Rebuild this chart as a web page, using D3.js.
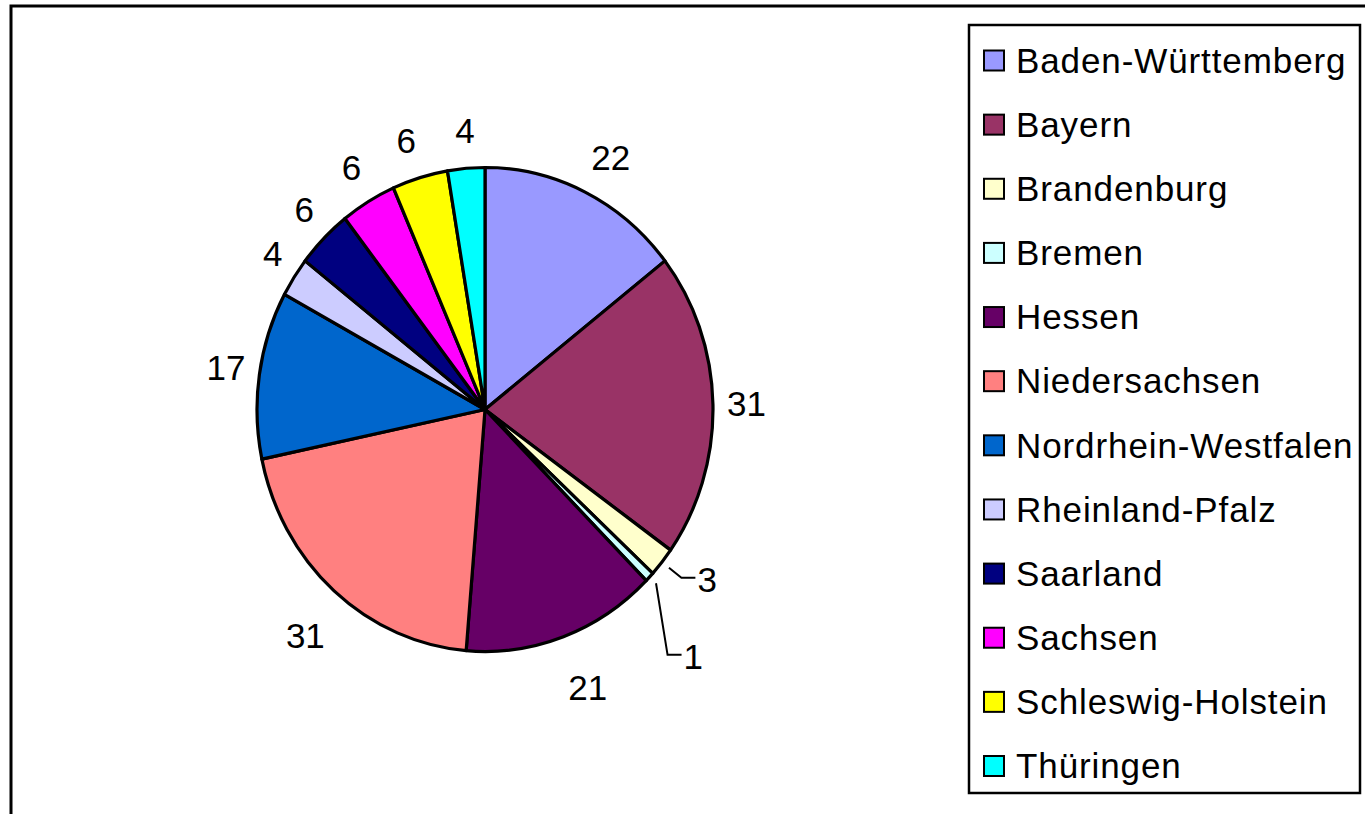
<!DOCTYPE html>
<html lang="de">
  <head>
    <title>Kreisdiagramm Bundesländer</title>
    <meta charset="utf-8">
    <script src="https://d3js.org/d3.v7.min.js"></script>
    <style>
      body { margin: 0; background: #fff; }
      text { font-family: Arial, "Liberation Sans", sans-serif; fill: #000; }
    </style>
  </head>
  <body>
    <div id="grafik"></div>
    <script type="text/javascript">

      // Daten
      const laender = ['Baden-Württemberg', 'Bayern', 'Brandenburg', 'Bremen', 'Hessen',
                       'Niedersachsen', 'Nordrhein-Westfalen', 'Rheinland-Pfalz', 'Saarland',
                       'Sachsen', 'Schleswig-Holstein', 'Thüringen']
      const werte = [22, 31, 3, 1, 21, 31, 17, 4, 6, 6, 6, 4]
      const farben = ['#9999FF', '#993366', '#FFFFCC', '#CCFFFF', '#660066', '#FF8080',
                      '#0066CC', '#CCCCFF', '#000080', '#FF00FF', '#FFFF00', '#00FFFF']

      const breite = 1365,
            hoehe = 814

      const mitte = { x: 485, y: 409.5 },
            rx = 228,
            ry = 242,
            schrift = 35

      const tela = d3.select('#grafik')
        .append('svg')
          .attr('width', breite)
          .attr('height', hoehe)

      // Rahmen des Diagrammbereichs
      tela.append('rect')
        .attr('x', 11).attr('y', 6)
        .attr('width', breite).attr('height', hoehe)
        .attr('fill', 'none')
        .attr('stroke', '#000')
        .attr('stroke-width', 3)

      const farbe = d3.scaleOrdinal().domain(laender).range(farben)

      const daten = laender.map((l, i) => ({ land: l, wert: werte[i] }))

      const torte = d3.pie()
        .sort(null)
        .value(d => d.wert)

      const boegen = torte(daten)

      const bogen = d3.arc()
        .innerRadius(0)
        .outerRadius(ry)

      // leicht elliptischer Kreis wie im Original
      const kreis = tela.append('g')
        .attr('transform', `translate(${mitte.x}, ${mitte.y}) scale(${rx / ry}, 1)`)

      kreis.selectAll('path')
        .data(boegen)
        .join('path')
          .attr('d', bogen)
          .attr('fill', d => farbe(d.data.land))
          .attr('stroke', '#000')
          .attr('stroke-width', 3.2)
          .attr('stroke-linejoin', 'round')
          .attr('vector-effect', 'non-scaling-stroke')

      // Beschriftungen
      const beschriftung = tela.append('g')
        .attr('font-size', schrift)

      const klemme = v => Math.max(-1, Math.min(1, v))
      const winkel = d => (d.startAngle + d.endAngle) / 2

      const normal = boegen.filter(d => d.data.wert > 3)
      const klein = boegen.filter(d => d.data.wert <= 3)

      normal.forEach(d => {
        const a = winkel(d), s = Math.sin(a), c = Math.cos(a)
        const k = klemme(3 * c)
        const x = mitte.x + 242 * s
        const y = mitte.y - 275 * c - 12.5 * k + 7 * Math.abs(k)
        beschriftung.append('text')
          .attr('x', x)
          .attr('y', y)
          .attr('dy', '0.36em')
          .attr('text-anchor', s > 0.2 ? 'start' : (s < -0.2 ? 'end' : 'middle'))
          .text(d.data.wert)
      })

      // kleine Segmente mit Führungslinien
      let letzteY = -Infinity
      klein.forEach(d => {
        const a = winkel(d), s = Math.sin(a), c = Math.cos(a)
        const start = [mitte.x + (rx + 9) * s, mitte.y - (ry + 9) * c]
        const knick = [mitte.x + (rx + 25) * s, mitte.y - (ry + 25) * c]
        knick[1] = Math.max(knick[1], letzteY + 77)
        letzteY = knick[1]
        const ende = [knick[0] + 14, knick[1]]

        beschriftung.append('path')
          .attr('d', d3.line()([start, knick, ende]))
          .attr('fill', 'none')
          .attr('stroke', '#000')
          .attr('stroke-width', 2)

        beschriftung.append('text')
          .attr('x', knick[0] + 16)
          .attr('y', knick[1] + 2)
          .attr('dy', '0.36em')
          .text(d.data.wert)
      })

      // Legende
      const legende = tela.append('g')

      legende.append('rect')
        .attr('x', 969).attr('y', 25)
        .attr('width', 391).attr('height', 768)
        .attr('fill', '#fff')
        .attr('stroke', '#000')
        .attr('stroke-width', 2.5)

      const zeile = d3.scalePoint()
        .domain(laender)
        .range([60.5, 766])

      const eintrag = legende.selectAll('g.eintrag')
        .data(laender)
        .join('g')
          .attr('class', 'eintrag')
          .attr('transform', d => `translate(0, ${zeile(d)})`)

      eintrag.append('rect')
        .attr('x', 984).attr('y', -10)
        .attr('width', 20).attr('height', 20)
        .attr('fill', d => farbe(d))
        .attr('stroke', '#000')
        .attr('stroke-width', 2)

      eintrag.append('text')
        .attr('x', 1016)
        .attr('y', 0)
        .attr('dy', '0.35em')
        .attr('font-size', schrift)
        .attr('letter-spacing', 0.9)
        .text(d => d)

    </script>
  </body>
</html>
